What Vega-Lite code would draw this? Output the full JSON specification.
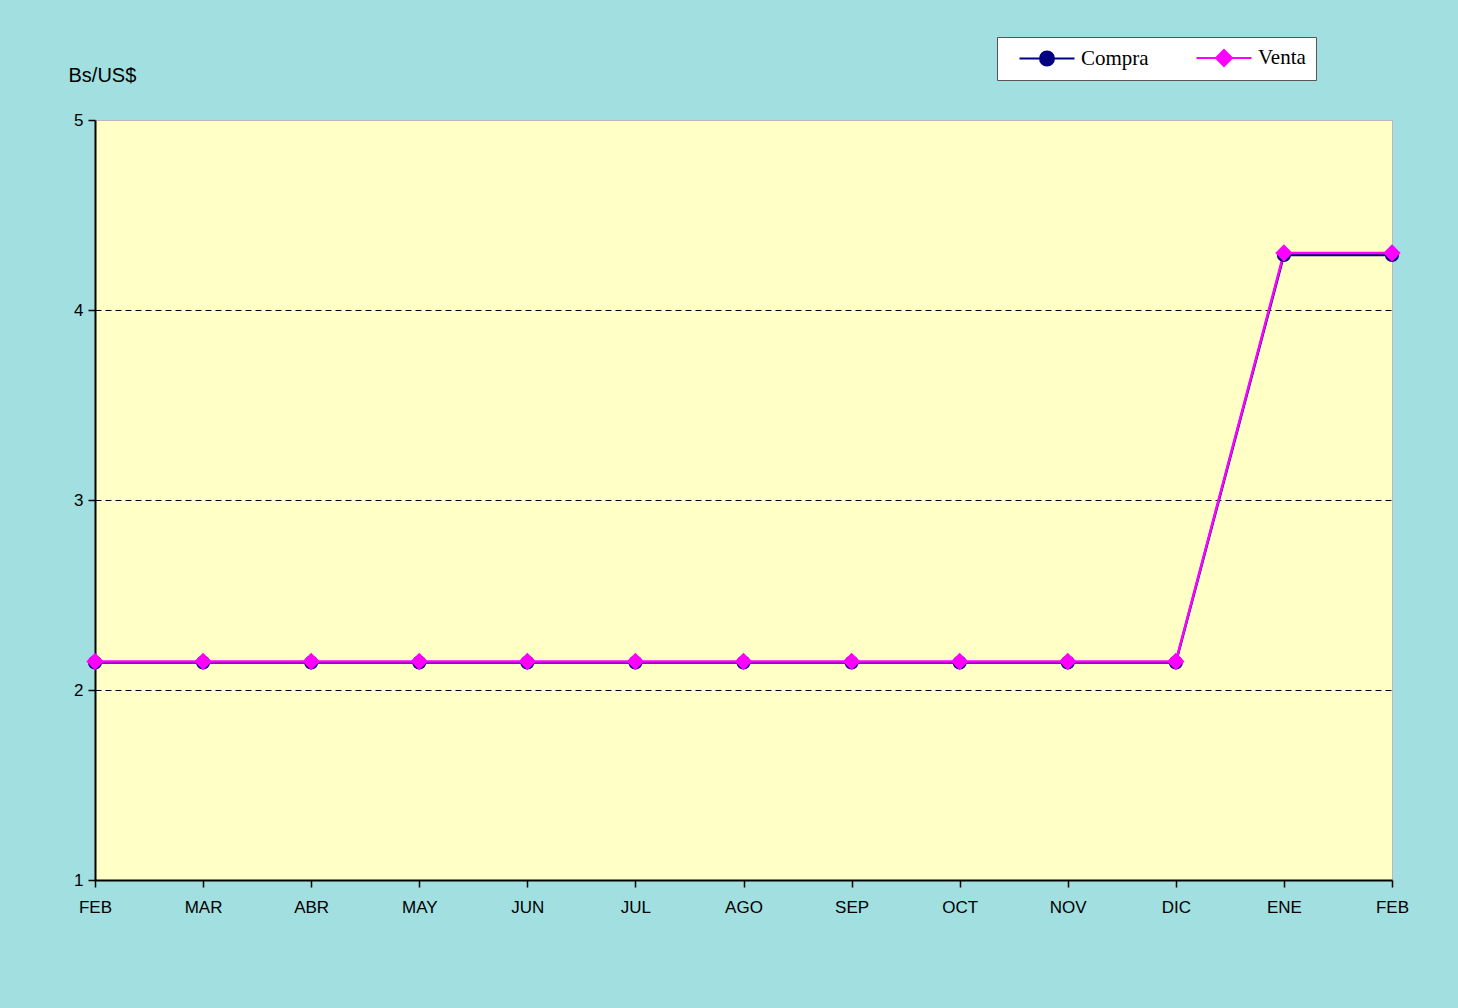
{
  "$schema": "https://vega.github.io/schema/vega-lite/v6.json",
  "width": 1297,
  "height": 760,
  "autosize": {"type": "none"},
  "padding": {"left": 95, "top": 120, "right": 66, "bottom": 128},
  "background": "#A1DFE0",
  "config": {
    "view": {"fill": "#FFFFC6", "stroke": "#B8B8B8", "strokeWidth": 1},
    "font": "Liberation Sans"
  },
  "data": {
    "values": [
      {"mes": "FEB 2009", "serie": "Compra", "valor": 2.1446},
      {"mes": "MAR 2009", "serie": "Compra", "valor": 2.1446},
      {"mes": "ABR 2009", "serie": "Compra", "valor": 2.1446},
      {"mes": "MAY 2009", "serie": "Compra", "valor": 2.1446},
      {"mes": "JUN 2009", "serie": "Compra", "valor": 2.1446},
      {"mes": "JUL 2009", "serie": "Compra", "valor": 2.1446},
      {"mes": "AGO 2009", "serie": "Compra", "valor": 2.1446},
      {"mes": "SEP 2009", "serie": "Compra", "valor": 2.1446},
      {"mes": "OCT 2009", "serie": "Compra", "valor": 2.1446},
      {"mes": "NOV 2009", "serie": "Compra", "valor": 2.1446},
      {"mes": "DIC 2009", "serie": "Compra", "valor": 2.1446},
      {"mes": "ENE 2010", "serie": "Compra", "valor": 4.2893},
      {"mes": "FEB 2010", "serie": "Compra", "valor": 4.2893},
      {"mes": "FEB 2009", "serie": "Venta", "valor": 2.15},
      {"mes": "MAR 2009", "serie": "Venta", "valor": 2.15},
      {"mes": "ABR 2009", "serie": "Venta", "valor": 2.15},
      {"mes": "MAY 2009", "serie": "Venta", "valor": 2.15},
      {"mes": "JUN 2009", "serie": "Venta", "valor": 2.15},
      {"mes": "JUL 2009", "serie": "Venta", "valor": 2.15},
      {"mes": "AGO 2009", "serie": "Venta", "valor": 2.15},
      {"mes": "SEP 2009", "serie": "Venta", "valor": 2.15},
      {"mes": "OCT 2009", "serie": "Venta", "valor": 2.15},
      {"mes": "NOV 2009", "serie": "Venta", "valor": 2.15},
      {"mes": "DIC 2009", "serie": "Venta", "valor": 2.15},
      {"mes": "ENE 2010", "serie": "Venta", "valor": 4.30},
      {"mes": "FEB 2010", "serie": "Venta", "valor": 4.30}
    ]
  },
  "encoding": {
    "x": {
      "field": "mes",
      "type": "ordinal",
      "sort": null,
      "scale": {"type": "point", "padding": 0},
      "axis": {
        "title": null,
        "labelAngle": 0,
        "labelExpr": "slice(datum.label, 0, 3)",
        "labelFont": "Liberation Sans",
        "labelFontSize": 17,
        "labelColor": "#000000",
        "labelPadding": 12,
        "domainColor": "#000000",
        "domainWidth": 2,
        "tickColor": "#000000",
        "tickWidth": 1.5,
        "tickSize": 7,
        "grid": false
      }
    },
    "y": {
      "field": "valor",
      "type": "quantitative",
      "scale": {"domain": [1, 5], "nice": false, "zero": false},
      "axis": {
        "values": [1, 2, 3, 4, 5],
        "title": "Bs/US$",
        "titleAngle": 0,
        "titleX": -27,
        "titleY": -45,
        "titleAlign": "left",
        "titleBaseline": "middle",
        "titleFont": "Liberation Sans",
        "titleFontSize": 20,
        "titleFontWeight": "normal",
        "titleColor": "#000000",
        "labelFont": "Liberation Sans",
        "labelFontSize": 17,
        "labelColor": "#000000",
        "labelPadding": 5,
        "domainColor": "#000000",
        "domainWidth": 2,
        "tickColor": "#000000",
        "tickWidth": 1.5,
        "tickSize": 7,
        "grid": true,
        "gridColor": "#000000",
        "gridWidth": 1,
        "gridDash": [6, 4],
        "gridOpacity": {"condition": {"test": "datum.value == 1 || datum.value == 5", "value": 0}, "value": 1}
      }
    },
    "color": {
      "field": "serie",
      "type": "nominal",
      "scale": {"domain": ["Compra", "Venta"], "range": ["#000080", "#FF00FF"]},
      "legend": {
        "title": null,
        "orient": "none",
        "legendX": 902,
        "legendY": -83,
        "direction": "horizontal",
        "fillColor": "#FFFFFF",
        "strokeColor": "#555555",
        "padding": 10,
        "symbolSize": 400,
        "symbolStrokeWidth": 2,
        "symbolOffset": 29,
        "labelOffset": 23,
        "columnPadding": 35,
        "labelFont": "Liberation Serif",
        "labelFontSize": 21,
        "labelColor": "#000000",
        "labelBaseline": "middle",
        "labelExpr": "datum.label === 'Venta' ? 'Venta  ' : datum.label",
        "encode": {
          "symbols": {
            "update": {
              "shape": {"signal": "datum.value === 'Compra' ? 'M-2.75,0H2.75M0.7,0A0.7,0.7,0,1,1,-0.7,0A0.7,0.7,0,1,1,0.7,0Z' : 'M-2.75,0H2.75M0,-0.8L0.8,0L0,0.8L-0.8,0Z'"},
              "size": {"value": 400},
              "fill": {"signal": "datum.value === 'Compra' ? '#000080' : '#FF00FF'"},
              "stroke": {"signal": "datum.value === 'Compra' ? '#000080' : '#FF00FF'"},
              "strokeWidth": {"value": 2},
              "opacity": {"value": 1}
            }
          }
        }
      }
    }
  },
  "layer": [
    {
      "mark": {"type": "line", "strokeWidth": 2.5}
    },
    {
      "transform": [{"filter": "datum.serie === 'Compra'"}],
      "mark": {"type": "point", "filled": true, "opacity": 1, "shape": "circle", "size": 200}
    },
    {
      "transform": [{"filter": "datum.serie === 'Venta'"}],
      "mark": {"type": "point", "filled": true, "opacity": 1, "shape": "diamond", "size": 300}
    }
  ]
}
